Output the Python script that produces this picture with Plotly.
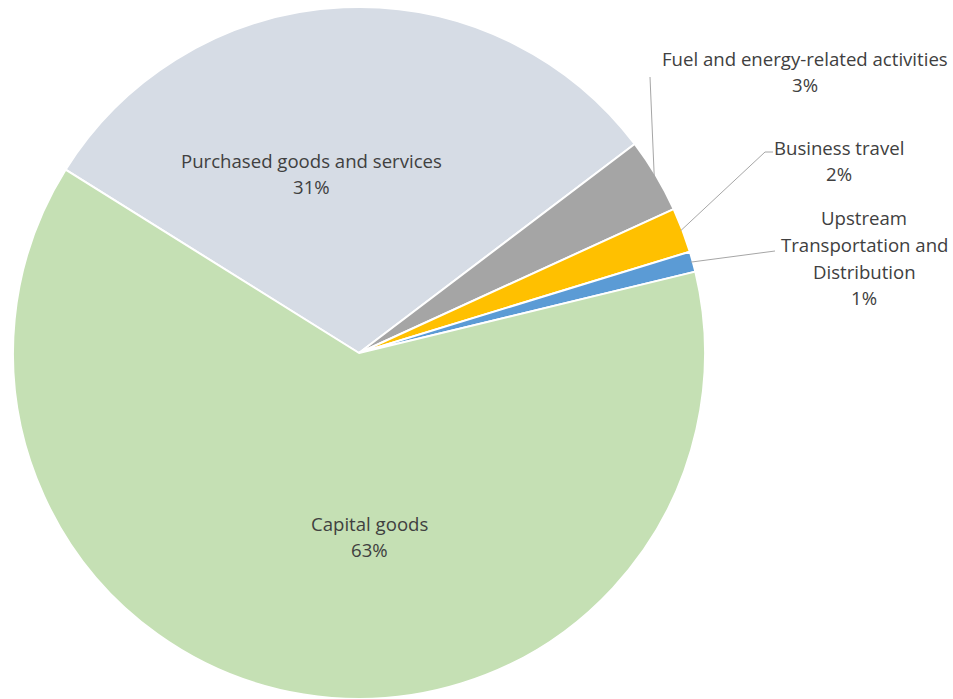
import math
import plotly.graph_objects as go

# ---- data ----
categories = ["Purchased goods and services", "Fuel and energy-related activities",
              "Business travel", "Upstream Transportation and Distribution", "Capital goods"]
values = [30.8, 3.5, 2.1, 0.95, 62.7]
pct_labels = ["31%", "3%", "2%", "1%", "63%"]
colors = ["#D6DCE5", "#A5A5A5", "#FFC000", "#5B9BD5", "#C5E0B4"]

W, H = 953, 699
TOP = 7
DIAM = H - TOP
CX, CY, R = DIAM / 2 + 13, TOP + DIAM / 2, DIAM / 2
ROT = -58  # start angle of first slice (deg, clockwise from 12 o'clock)

fig = go.Figure(go.Pie(
    labels=categories, values=values, sort=False, direction="clockwise",
    rotation=ROT, marker=dict(colors=colors, line=dict(color="white", width=2)),
    textinfo="none", hoverinfo="skip", showlegend=False,
    domain=dict(x=[13 / W, (13 + DIAM) / W], y=[0, DIAM / H]),
))

def px(x, y):
    return x / W, 1 - y / H

FONT = dict(family="'Open Sans', sans-serif", size=18.6, color="#404040")
LINE_H = 26.5

# label blocks: (text lines, centre x of block, y of first line)
label_pos = {
    0: (["Purchased goods and services"], 311, 160),
    1: (["Fuel and energy-related activities"], 805, 58),
    2: (["Business travel"], 839, 147),
    3: (["Upstream", "Transportation and", "Distribution"], 864, 218),
    4: (["Capital goods"], 369, 523),
}
annotations = []
for i, (lines, x, y0) in label_pos.items():
    for k, t in enumerate(lines + [pct_labels[i]]):
        ax, ay = px(x, y0 + k * LINE_H)
        annotations.append(dict(text=t, x=ax, y=ay, xref="paper", yref="paper",
                                xanchor="center", yanchor="middle", showarrow=False, font=FONT))

# leader lines from slice mid-angle on rim to label
total = sum(values)
cum = 0
mids = []
for v in values:
    mids.append(ROT + (cum + v / 2) / total * 360)
    cum += v
ends = {1: [(650, 77)], 2: [(765, 152), (773, 152)], 3: [(775, 251)]}
shapes = []
for i, pts in ends.items():
    a = math.radians(mids[i])
    rim = (CX + (R - 2) * math.sin(a), CY - (R - 2) * math.cos(a))
    seq = [rim] + pts
    for (x1, y1), (x2, y2) in zip(seq[:-1], seq[1:]):
        p1, p2 = px(x1, y1), px(x2, y2)
        shapes.append(dict(type="line", xref="paper", yref="paper",
                           x0=p1[0], y0=p1[1], x1=p2[0], y1=p2[1],
                           line=dict(color="#A6A6A6", width=1)))

fig.update_layout(width=W, height=H, margin=dict(l=0, r=0, t=0, b=0),
                  paper_bgcolor="white", plot_bgcolor="white",
                  annotations=annotations, shapes=shapes)
fig.write_html("out.html")
